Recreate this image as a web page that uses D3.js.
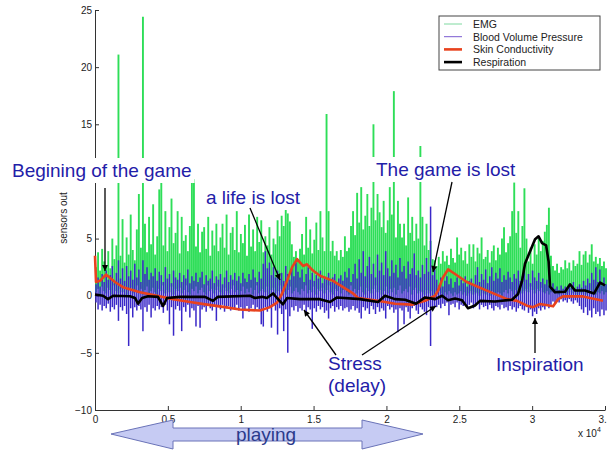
<!DOCTYPE html>
<html>
<head>
<meta charset="utf-8">
<script src="https://cdn.jsdelivr.net/npm/d3@7"></script>
<style>
    body { margin: 0; background: white; }
    svg { font-family: "Liberation Sans", Arial, Helvetica, sans-serif; }
</style>
</head>
<body>
<svg id="sensors"></svg>
<script>
// sample spacing of the signal arrays (one value every 140 samples, 0 .. 35000)
var step = 140

// EMG: peak of each burst and the low point between bursts
var emgPeak = [
    2.5, 3.8, 2.2, 4.1, 3.0, 2.6, 3.9, 2.4, 5.0, 3.2,
    4.4, 21.1, 3.5, 6.7, 2.9, 5.1, 3.6, 7.1, 4.0, 3.1,
    5.8, 8.9, 4.2, 24.4, 6.3, 3.8, 6.9, 4.5, 8.0, 3.6,
    5.2, 9.3, 10.5, 4.4, 7.4, 3.9, 6.0, 8.5, 4.6, 5.5,
    7.4, 3.7, 6.9, 4.8, 5.3, 3.9, 6.1, 11.0, 10.2, 4.3,
    6.3, 3.8, 5.6, 6.0, 4.1, 6.9, 3.5, 5.7, 4.4, 6.3,
    3.9, 5.1, 6.3, 4.2, 7.1, 3.6, 5.5, 6.0, 4.0, 7.4,
    3.8, 5.4, 4.6, 6.2, 3.5, 7.1, 4.3, 5.8, 3.9, 6.9,
    4.7, 6.6, 3.8, 5.2, 4.4, 6.0, 3.6, 5.0, 4.5, 6.6,
    5.2, 7.0, 6.1, 8.0, 7.2, 6.5, 4.5, 3.4, 3.9, 3.2,
    4.1, 5.4, 3.6, 6.9, 4.2, 5.8, 3.7, 4.9, 6.4, 4.0,
    7.4, 5.1, 3.9, 15.9, 7.4, 3.9, 4.8, 3.5, 3.9, 3.1,
    4.0, 3.4, 5.2, 3.9, 4.2, 6.1, 7.4, 5.3, 9.0, 6.4,
    9.5, 5.8, 7.0, 8.9, 6.1, 7.7, 15.0, 6.6, 8.9, 7.3,
    6.0, 8.3, 5.5, 6.6, 9.5, 7.1, 17.9, 5.1, 8.3, 6.3,
    5.1, 6.3, 4.4, 8.6, 5.5, 6.9, 4.8, 6.3, 5.0, 13.1,
    6.9, 4.4, 6.3, 4.0, 4.8, 3.2, 3.1, 2.6, 3.4, 2.8,
    3.9, 3.0, 3.5, 2.7, 4.1, 3.3, 2.9, 5.1, 3.6, 4.2,
    3.1, 3.9, 2.8, 4.5, 3.4, 4.5, 3.0, 4.2, 3.7, 5.1,
    3.2, 3.4, 4.0, 2.9, 3.9, 4.4, 3.1, 4.2, 3.6, 5.0,
    6.0, 3.8, 4.6, 5.2, 7.4, 9.9, 5.5, 7.4, 4.2, 6.1,
    9.4, 5.0, 3.0, 4.2, 2.8, 4.5, 3.6, 5.0, 3.9, 4.8,
    5.6, 6.2, 7.7, 3.5, 2.6, 2.2, 2.8, 2.0, 2.5, 2.3,
    3.1, 2.4, 2.9, 2.2, 3.1, 2.6, 2.8, 3.9, 2.7, 3.6,
    3.9, 2.9, 3.6, 4.5, 3.0, 3.4, 2.8, 3.3, 2.6, 3.0, 2.4
];
var emgLow = [
    0.3, 0.6, 0.1, 0.8, 0.4, 0.2, 0.7, 0.5, 0.1, 0.9,
    0.4, 0.2, 0.6, 0.3, 0.8, 0.1, 0.5, 0.7, 0.2, 0.4,
    0.9, 0.3, 0.6, 0.1, 0.5, 0.8, 0.2, 0.4, 0.7, 0.3,
    0.1, 0.6, 0.4, 0.9, 0.2, 0.5, 0.3, 0.8, 0.1, 0.6,
    0.4, 0.7, 0.2, 0.5, 0.9, 0.3, 0.1, 0.6, 0.4, 0.8,
    0.2, 0.5, 0.7, 0.3, 0.1, 0.9, 0.4, 0.6, 0.2, 0.5,
    0.8, 0.3, 0.1, 0.7, 0.4, 0.2, 0.6, 0.9, 0.3, 0.5,
    0.1, 0.4, 0.8, 0.2, 0.6, 0.3, 0.7, 0.1, 0.5, 0.9,
    0.2, 0.4, 0.6, 0.3, 0.8, 0.1, 0.5, 0.7, 0.2, 0.4,
    0.9, 0.6, 0.3, 0.1, 0.5, 0.8, 0.2, 0.4, 0.7, 0.3,
    0.1, 0.6, 0.4, 0.9, 0.2, 0.5, 0.3, 0.8, 0.1, 0.6,
    0.4, 0.7, 0.2, 0.5, 0.9, 0.3, 0.1, 0.6, 0.4, 0.8,
    0.2, 0.5, 0.7, 0.3, 0.1, 0.9, 0.4, 0.6, 0.2, 0.5,
    0.8, 0.3, 0.1, 0.7, 0.4, 0.2, 0.6, 0.9, 0.3, 0.5,
    0.1, 0.4, 0.8, 0.2, 0.6, 0.3, 0.7, 0.1, 0.5, 0.9,
    0.2, 0.4, 0.6, 0.3, 0.8, 0.1, 0.5, 0.7, 0.2, 0.4,
    0.3, 0.1, 0.5, 0.2, 0.4, 0.0, 0.3, 0.1, 0.4, 0.2,
    0.0, 0.3, 0.1, 0.4, 0.2, 0.0, 0.3, 0.1, 0.2, 0.4,
    0.1, 0.3, 0.0, 0.2, 0.4, 0.1, 0.3, 0.2, 0.0, 0.4,
    0.2, 0.1, 0.3, 0.0, 0.4, 0.2, 0.1, 0.3, 0.2, 0.0,
    0.3, 0.5, 0.2, 0.6, 0.4, 0.1, 0.5, 0.3, 0.7, 0.2,
    0.4, 0.6, 0.3, 0.8, 0.5, 0.2, 0.6, 0.4, 0.7, 0.3,
    0.2, 0.4, 0.1, 0.3, 0.5, 0.2, 0.4, 0.1, 0.3, 0.2,
    0.4, 0.1, 0.3, 0.5, 0.2, 0.4, 0.1, 0.3, 0.2, 0.4,
    0.1, 0.3, 0.5, 0.2, 0.4, 0.1, 0.3, 0.2, 0.4, 0.1, 0.3
];

// Blood volume pressure: upper and lower swing per step
var bvpHigh = [
    1.0, 1.6, 0.8, 1.9, 1.2, 2.2, 1.4, 1.8, 2.6, 1.1,
    2.0, 3.1, 1.5, 2.4, 1.3, 2.6, 1.7, 2.2, 1.4, 2.8,
    1.6, 2.3, 1.2, 3.1, 1.9, 2.5, 1.4, 2.0, 1.7, 2.4,
    1.3, 2.1, 1.8, 1.2, 2.5, 1.5, 1.9, 1.1, 2.2, 1.6,
    1.4, 2.0, 1.2, 1.8, 1.5, 2.3, 1.1, 1.7, 1.3, 2.0,
    1.2, 1.6, 2.1, 1.0, 1.8, 1.3, 1.5, 2.2, 1.1, 1.7,
    1.4, 1.9, 1.0, 1.6, 2.2, 1.2, 1.8, 1.4, 2.0, 1.3,
    1.7, 1.1, 2.0, 1.5, 1.2, 1.9, 1.4, 2.3, 1.6, 1.2,
    2.1, 1.5, 2.8, 3.9, 2.4, 2.9, 1.8, 2.5, 1.6, 2.2,
    1.5, 2.0, 1.3, 2.6, 1.9, 1.4, 2.4, 1.7, 2.9, 2.1,
    1.6, 2.3, 1.2, 1.9, 2.5, 1.4, 2.0, 1.3, 1.8, 1.5,
    2.2, 1.1, 1.7, 1.4, 2.0, 1.2, 1.6, 1.9, 1.0, 1.5,
    1.8, 1.3, 2.1, 1.6, 2.4, 1.2, 1.9, 2.8, 1.5, 3.2,
    2.0, 3.9, 1.7, 2.6, 3.4, 1.9, 2.8, 1.6, 3.6, 2.2,
    2.9, 1.8, 3.9, 2.4, 1.7, 3.1, 2.0, 2.7, 1.6, 3.3,
    2.1, 2.6, 1.5, 3.0, 1.9, 2.4, 3.7, 1.8, 2.2, 1.6,
    2.7, 1.9, 3.3, 2.1, 7.8, 1.8, 2.3, 1.4, 0.9, 1.6,
    0.8, 1.3, 1.7, 1.0, 1.5, 0.7, 1.2, 1.6, 0.9, 1.4,
    1.1, 1.7, 0.8, 1.3, 1.5, 1.0, 1.8, 2.5, 1.2, 1.9,
    1.4, 2.3, 1.1, 1.7, 2.5, 1.3, 2.0, 1.5, 2.4, 1.2,
    1.8, 1.4, 2.1, 1.6, 1.2, 1.9, 1.5, 2.2, 1.3, 1.7,
    2.2, 1.4, 1.9, 1.1, 2.2, 1.6, 1.3, 2.0, 1.2, 1.5,
    1.0, 1.4, 0.9, 0.7, 1.1, 0.6, 0.8, 0.5, 0.9, 0.6,
    0.8, 0.5, 0.9, 0.7, 1.2, 0.6, 0.8, 1.0, 0.7, 1.3,
    0.9, 1.5, 1.1, 2.0, 1.4, 2.5, 1.2, 2.3, 0.9, 1.6, 1.0
];
var bvpLow = [
    -0.6, -1.2, -0.8, -1.3, -0.9, -1.1, -0.7, -1.4, -1.0, -1.2,
    -0.8, -2.2, -1.0, -1.3, -0.9, -1.6, -4.4, -1.1, -1.9, -1.0,
    -1.3, -0.9, -1.2, -3.1, -1.0, -1.4, -0.8, -1.9, -1.1, -1.3,
    -0.9, -1.2, -1.0, -1.5, -0.8, -1.3, -2.5, -1.0, -3.5, -1.2,
    -0.9, -1.3, -3.1, -1.0, -1.4, -0.8, -1.9, -1.1, -1.3, -2.7,
    -0.9, -2.8, -1.2, -1.0, -1.4, -0.8, -1.1, -1.3, -0.9, -2.2,
    -1.0, -1.2, -0.8, -1.4, -1.1, -0.9, -1.3, -1.0, -1.2, -0.8,
    -1.3, -1.0, -2.0, -1.2, -0.9, -1.4, -1.1, -0.8, -1.3, -1.0,
    -1.2, -2.5, -2.7, -1.0, -1.4, -1.1, -2.8, -0.9, -1.3, -3.4,
    -1.1, -1.6, -3.1, -1.2, -5.0, -1.8, -1.0, -1.3, -0.9, -1.4,
    -1.1, -1.3, -0.8, -1.6, -1.0, -1.2, -2.9, -1.1, -1.4, -0.9,
    -1.2, -1.0, -1.5, -1.3, -2.0, -1.1, -0.9, -1.4, -1.0, -1.2,
    -0.9, -1.3, -1.1, -1.0, -1.4, -1.2, -0.9, -1.3, -1.1, -1.5,
    -2.0, -1.0, -1.3, -1.1, -1.6, -0.9, -1.2, -1.6, -1.0, -1.4,
    -1.1, -1.3, -2.0, -0.9, -1.2, -1.0, -1.5, -1.2, -3.2, -1.1,
    -1.3, -2.5, -1.0, -1.4, -2.0, -1.1, -0.9, -1.3, -1.6, -1.0,
    -1.2, -1.4, -1.7, -1.0, -4.4, -1.2, -0.9, -1.0, -0.8, -1.1,
    -0.7, -0.9, -0.6, -1.7, -0.8, -0.7, -1.0, -0.6, -1.2, -0.8,
    -0.9, -0.7, -1.0, -0.8, -0.6, -1.1, -0.9, -0.7, -1.2, -0.8,
    -1.0, -0.9, -1.2, -0.8, -1.1, -1.3, -0.9, -1.0, -1.2, -0.8,
    -1.1, -1.0, -1.3, -0.9, -1.2, -1.0, -1.4, -1.1, -0.9, -1.2,
    -1.3, -1.0, -1.5, -1.2, -1.8, -1.4, -1.6, -1.1, -1.3, -1.0,
    -1.2, -0.9, -1.1, -0.8, -0.5, -0.7, -0.4, -0.6, -0.3, -0.5,
    -0.4, -0.6, -0.3, -0.5, -0.7, -0.4, -0.6, -0.9, -1.2, -1.5,
    -1.0, -1.7, -1.3, -1.9, -1.1, -1.6, -1.4, -1.8, -1.2, -1.7, -1.3
];

// Skin conductivity (slow signal): sample position and value
var scT = [0, 70, 340, 750, 1370, 1920, 3090, 4250, 5350, 6520, 7690, 8920, 9950, 11320, 12010, 12490,
    12830, 13180, 13530, 13870, 14280, 14550, 14960, 15440, 16340, 17020, 17710, 18050, 19420, 20590,
    21750, 22650, 23340, 23540, 23880, 24230, 24710, 25510, 26890, 28280, 28960, 29650, 30060, 30540,
    31440, 31780, 32120, 33490, 34860];
var scV = [3.5, 1.2, 1.3, 1.85, 1.2, 0.75, 0.3, 0.0, -0.3, -0.55, -0.78, -1.0, -1.2, -1.3, -1.0, -0.6,
    0.15, 1.3, 2.5, 3.2, 2.6, 2.75, 2.2, 1.75, 1.3, 0.75, 0.2, -0.2, -0.44, -0.7,
    -0.78, -0.44, 0.0, 0.45, 1.6, 2.3, 1.9, 1.2, 0.45, -0.3, -0.45, -0.87, -1.0, -0.73,
    -0.93, -0.3, -0.06, -0.06, -0.44];

// Respiration: sample position and value
var respT = [0, 550, 890, 1240, 2400, 2750, 2950, 3230, 3640, 4320, 4670, 4940, 5830, 7550, 8100, 8440,
    10640, 10980, 11460, 11800, 12220, 12490, 12900, 13180, 14070, 15440, 16130, 16610, 18190, 19420,
    19900, 20590, 21280, 22030, 22650, 23340, 23820, 24230, 24710, 25190, 25600, 26080, 26420, 27450,
    28620, 29030, 29310, 29510, 29860, 30200, 30440, 30680, 30960, 31130, 31230, 31570, 32260, 32600,
    32950, 33630, 34250, 34660, 35000];
var respV = [0.1, 0.0, -0.3, 0.0, -0.05, -0.2, -0.7, -0.2, -0.05, -0.1, -0.9, -0.2, -0.1, -0.1, -0.45, -0.1,
    0.0, -0.2, -0.1, -0.2, 0.2, -0.2, -0.75, -0.2, -0.3, -0.3, -0.55, -0.15, -0.3, -0.55,
    0.0, -0.3, -0.35, -0.7, -0.15, -0.3, 0.0, -0.4, -0.25, -0.4, -1.1, -0.85, -0.45, -0.5,
    -0.35, 0.15, 1.3, 2.8, 3.9, 4.95, 5.2, 4.6, 4.4, 3.0, 0.8, 0.3, 0.35, 1.0,
    0.45, 0.45, 0.2, 1.15, 0.9];

var yTicks = [-10, -5, 0, 5, 10, 15, 20, 25];
var xTicks = [0, 5000, 10000, 15000, 20000, 25000, 30000, 35000];

var series = ["EMG", "Blood Volume Pressure", "Skin Conductivity", "Respiration"];
var seriesColor = ["#2ede58", "#3a28c8", "#e8421e", "#000000"];
var seriesWidth = [1.9, 1.5, 2.6, 2.6];

// annotations (text, x, baseline y)
var notes = [
    ["Begining of the game", 12, 177],
    ["a life is lost", 206, 204],
    ["The game is lost", 376, 176],
    ["Stress", 328, 370],
    ["(delay)", 328, 392],
    ["Inspiration", 496, 371]
];

(function() {
    const width = 607
    const height = 452

    var svg = d3.select("#sensors")
        .attr("width", width)
        .attr("height", height)

    var x = d3.scaleLinear().domain([0, 35000]).range([95, 605])
    var y = d3.scaleLinear().domain([-10, 25]).range([410, 10])

    // Axes, MATLAB style: ticks inside, only left and bottom
    // (the 10 label sits under the first annotation box in the original)
    svg.append("g")
        .attr("transform", "translate(95,0)")
        .call(d3.axisLeft(y).tickValues(yTicks).tickSize(-4).tickSizeOuter(0).tickPadding(3)
            .tickFormat((d) => d == 10 ? "" : d3.format("")(d)))
    svg.append("g")
        .attr("transform", "translate(0,410)")
        .call(d3.axisBottom(x).tickValues(xTicks).tickSize(-4).tickSizeOuter(0).tickPadding(6)
            .tickFormat((d) => d / 10000))
    svg.selectAll(".tick text").style("font-size", "10px").attr("fill", "#222")
    svg.selectAll(".domain, .tick line").attr("stroke", "#333")

    svg.append("text")
        .attr("transform", "translate(67,218) rotate(-90)")
        .attr("text-anchor", "middle")
        .style("font-size", "10px")
        .attr("fill", "#222")
        .text("sensors out")

    var xl = svg.append("text")
        .attr("x", 578).attr("y", 437)
        .style("font-size", "10px")
        .attr("fill", "#222")
    xl.append("tspan").text("x 10")
    xl.append("tspan").attr("dy", -5).style("font-size", "7px").text("4")

    // fast signals: one vertical stroke (low -> high) per step
    var strokes = function(lows, highs, k) {
        var n = Math.min(lows.length, highs.length)
        svg.append("g")
            .selectAll("line")
            .data(d3.range(n))
            .enter()
            .append("line")
            .attr("x1", (i) => x(i * step + step / 2))
            .attr("x2", (i) => x(i * step + step / 2))
            .attr("y1", (i) => y(lows[i]))
            .attr("y2", (i) => y(highs[i]))
            .attr("stroke", seriesColor[k])
            .attr("stroke-width", seriesWidth[k])
    }
    strokes(emgLow, emgPeak, 0)
    strokes(bvpLow, bvpHigh, 1)

    // slow signals as lines
    var line = d3.line().x((d) => x(d[0])).y((d) => y(d[1]))
    var slow = [
        [scT.map((d, i) => [d, scV[i]]), 2],
        [respT.map((d, i) => [d, respV[i]]), 3]
    ]
    svg.append("g")
        .selectAll("path")
        .data(slow)
        .enter()
        .append("path")
        .attr("d", (d) => line(d[0]))
        .attr("fill", "none")
        .attr("stroke", (d) => seriesColor[d[1]])
        .attr("stroke-width", (d) => seriesWidth[d[1]])
        .attr("stroke-linejoin", "round")

    // Legend
    var legend = svg.append("g")
    legend.append("rect")
        .attr("x", 439).attr("y", 16)
        .attr("width", 161).attr("height", 54)
        .attr("fill", "white")
        .attr("stroke", "#444")
    var row = legend.selectAll("g")
        .data(series)
        .enter()
        .append("g")
        .attr("transform", (d, i) => "translate(0," + (24 + i * 12.7) + ")")
    row.append("line")
        .attr("x1", 444).attr("x2", 462)
        .attr("stroke", (d, i) => ["#7fd9a0", "#7a5ad0", "#e8421e", "#000"][i])
        .attr("stroke-width", (d, i) => i < 2 ? 1 : 2.6)
    row.append("text")
        .attr("x", 473).attr("y", 4)
        .style("font-size", "10.5px")
        .attr("fill", "#222")
        .text((d) => d)

    // Annotations: white box behind, blue text
    var note = svg.append("g")
        .selectAll("g")
        .data(notes)
        .enter()
        .append("g")
    var label = note.append("text")
        .attr("x", (d) => d[1])
        .attr("y", (d) => d[2])
        .style("font-size", "19px")
        .attr("fill", "#1f20a8")
        .text((d) => d[0])
    label.each(function(d, i) {
        if (i > 2) return
        var b = this.getBBox()
        d3.select(this.parentNode).insert("rect", "text")
            .attr("x", b.x - 5).attr("y", b.y - 2)
            .attr("width", b.width + 8).attr("height", b.height + 4)
            .attr("fill", "white")
    })

    // arrows
    svg.append("defs").append("marker")
        .attr("id", "head")
        .attr("viewBox", "0 0 10 10")
        .attr("refX", 10).attr("refY", 5)
        .attr("markerWidth", 7).attr("markerHeight", 6)
        .attr("markerUnits", "userSpaceOnUse")
        .attr("orient", "auto")
        .append("path")
        .attr("d", "M0,0L10,5L0,10z")
        .attr("fill", "black")

    var arrows = [
        [105, 188, 105, 271],
        [250, 208, 280, 280],
        [452, 182, 433, 272],
        [336, 355, 304, 310],
        [362, 355, 436, 306],
        [535, 353, 535, 318]
    ]
    svg.append("g")
        .selectAll("line")
        .data(arrows)
        .enter()
        .append("line")
        .attr("x1", (d) => d[0]).attr("y1", (d) => d[1])
        .attr("x2", (d) => d[2]).attr("y2", (d) => d[3])
        .attr("stroke", "black")
        .attr("stroke-width", 1.3)
        .attr("marker-end", "url(#head)")

    // "playing" double arrow under the axis
    var big = [[111, 434], [173, 420], [173, 428], [362, 428], [362, 420], [423, 434],
        [362, 449], [362, 441], [173, 441], [173, 449]]
    svg.append("polygon")
        .attr("points", big.map((p) => p.join(",")).join(" "))
        .attr("fill", "#c6cbf3")
        .attr("stroke", "#6a73b8")
        .attr("stroke-width", 1)
    svg.append("text")
        .attr("x", 266).attr("y", 441)
        .attr("text-anchor", "middle")
        .style("font-size", "19px")
        .attr("fill", "#2b3a8c")
        .text("playing")
})();
</script>
</body>
</html>
